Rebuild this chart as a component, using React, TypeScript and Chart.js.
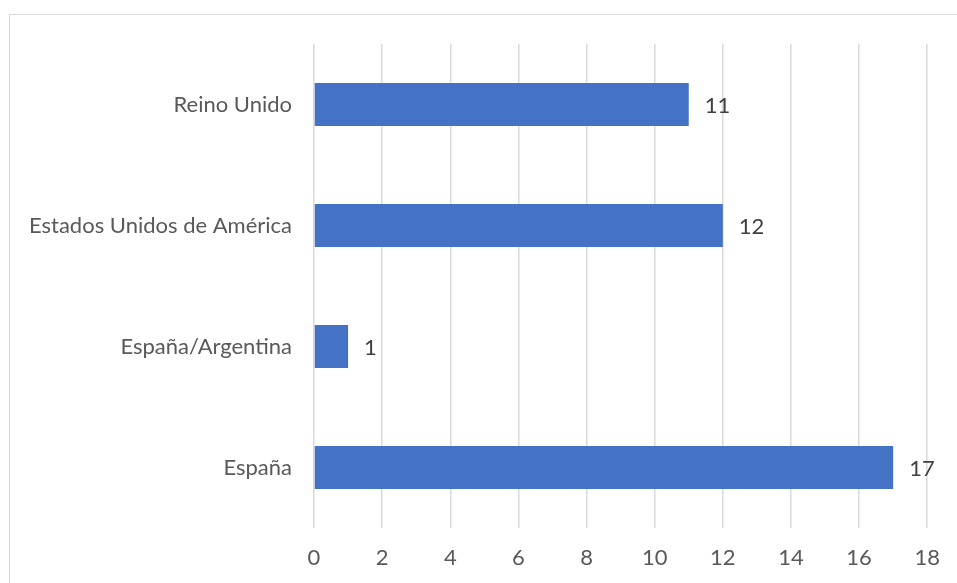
import React, { useEffect, useRef } from "react";
import { Chart, registerables } from "chart.js";

Chart.register(...registerables);

const categories = ["Reino Unido", "Estados Unidos de América", "España/Argentina", "España"];
const values = [11, 12, 1, 17];
const xMin = 0;
const xMax = 18;
const xStep = 2;

const FONT = "Lato";
const FONT_SIZE = 22;

const valueLabels = {
  id: "valueLabels",
  afterDatasetsDraw(chart: any) {
    const ctx = chart.ctx;
    const meta = chart.getDatasetMeta(0);
    ctx.save();
    ctx.font = `${FONT_SIZE}px ${FONT}`;
    ctx.fillStyle = "#404040";
    ctx.textAlign = "left";
    ctx.textBaseline = "middle";
    meta.data.forEach((bar: any, i: number) => {
      ctx.fillText(String(values[i]), bar.x + 16, bar.y + 1);
    });
    ctx.restore();
  },
};

export default function App() {
  const ref = useRef<HTMLCanvasElement>(null);
  useEffect(() => {
    if (!ref.current) return;
    const chart = new Chart(ref.current, {
      type: "bar",
      data: {
        labels: categories,
        datasets: [
          {
            data: values,
            backgroundColor: "#4472C4",
            borderWidth: 0,
            barPercentage: 0.355,
            categoryPercentage: 1,
          },
        ],
      },
      options: {
        indexAxis: "y",
        animation: false,
        responsive: false,
        maintainAspectRatio: false,
        layout: { padding: { top: 44, right: 29, left: 0, bottom: 0 } },
        plugins: { legend: { display: false }, tooltip: { enabled: false }, title: { display: false } },
        scales: {
          x: {
            min: xMin,
            max: xMax,
            ticks: {
              stepSize: xStep,
              color: "#595959",
              font: { family: FONT, size: FONT_SIZE },
              padding: 17,
            },
            grid: { color: "#D9D9D9", lineWidth: 1.5, drawTicks: false },
            border: { display: false },
            afterFit: (s: any) => {
              s.height = 55;
            },
          },
          y: {
            ticks: {
              color: "#595959",
              font: { family: FONT, size: FONT_SIZE },
              padding: 22,
            },
            grid: { display: false, drawTicks: false },
            border: { display: false },
            afterFit: (s: any) => {
              s.width = 314;
            },
          },
        },
      },
      plugins: [valueLabels],
    });
    return () => chart.destroy();
  }, []);
  return (
    <div style={{ position: "fixed", left: 0, top: 0, width: 957, height: 583, background: "#fff", overflow: "hidden" }}>
      <div
        style={{
          position: "absolute",
          left: 9,
          top: 14,
          width: 1200,
          height: 1200,
          border: "1.5px solid #D9D9D9",
          boxSizing: "border-box",
        }}
      />
      <canvas ref={ref} width={957} height={583} style={{ position: "absolute", left: 0, top: 0, width: 957, height: 583 }} />
    </div>
  );
}
